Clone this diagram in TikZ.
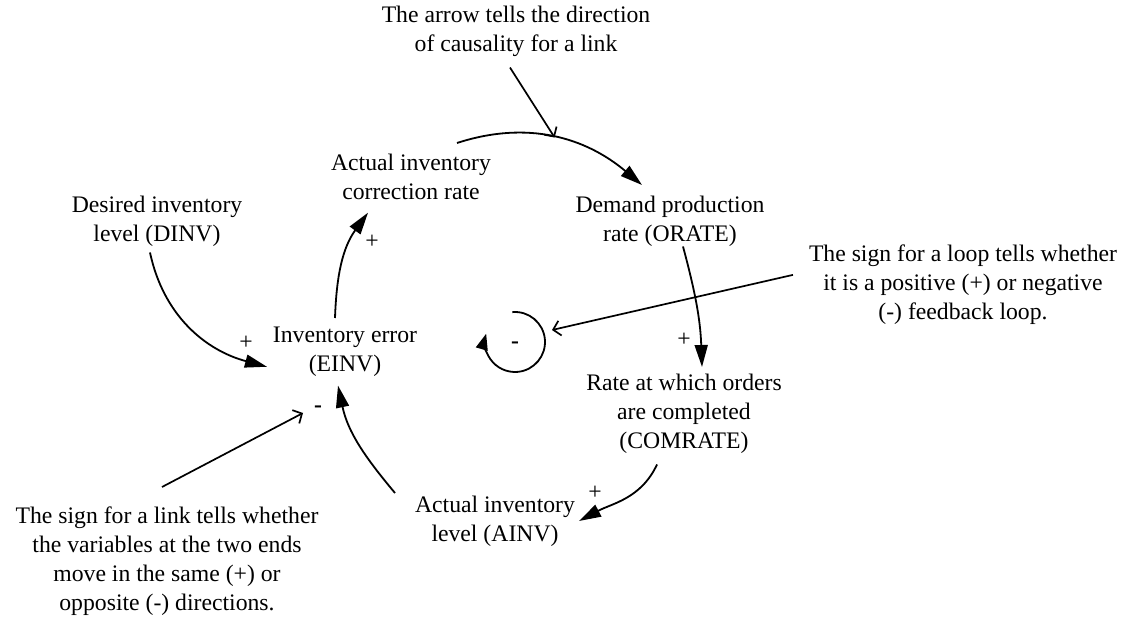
\documentclass[tikz,border=0pt]{standalone}
\usepackage{fontspec}
\setmainfont{Liberation Serif}
\usetikzlibrary{arrows.meta,calc}
\begin{document}
\begin{tikzpicture}[x=1pt,y=-1pt,
  every node/.style={inner sep=0pt, outer sep=0pt, font=\fontsize{23.7}{29}\selectfont, align=center, anchor=north},
  link/.style={line width=1.8pt, -{Triangle[length=22pt,width=13pt]}},
  pointer/.style={line width=1.7pt, -{Straight Barb[length=7pt,width=15pt]}},
  sign/.style={anchor=center},
  minus/.style={anchor=center, font=\fontsize{23.7}{29}\selectfont\bfseries},
]
\useasboundingbox (0,0) rectangle (1127,617);
% variables and notes
\node (top) at (516,6) {The arrow tells the direction\\of causality for a link};
\node (acr) at (411,154) {Actual inventory\\correction rate};
\node (dinv) at (157,196) {Desired inventory\\level (DINV)};
\node (orate) at (670,196) {Demand production\\rate (ORATE)};
\node (einv) at (345,327) {Inventory error\\(EINV)};
\node (com) at (684,374) {Rate at which orders\\are completed\\(COMRATE)};
\node (ainv) at (495,496) {Actual inventory\\level (AINV)};
\node (loopnote) at (963,245) {The sign for a loop tells whether\\it is a positive (+) or negative\\(-) feedback loop.};
\node (linknote) at (167,507) {The sign for a link tells whether\\the variables at the two ends\\move in the same (+) or\\opposite (-) directions.};
% signs
\node[sign] (p1) at (246,343) {+};
\node[sign] (p2) at (372,242) {+};
\node[sign] (p3) at (684,340) {+};
\node[sign] (p4) at (595,493) {+};
\node[minus] (m1) at (318,409) {-};
\coordinate (loopc) at (515,342);
\node[minus] (m2) at (515,345) {-};
% causal links
\draw[link] ($(dinv.south)+(-7,6)$) to[out=-78,in=165] ($(einv.west)+(-6,15)$);
\draw[link] ($(einv.north)+(-10,-9)$) to[out=88,in=-126] ($(acr.south)+(-43,13)$);
\draw[link] ($(acr.north)+(46,-11)$) to[out=18,in=140] coordinate[pos=0.5] (onarc) ($(orate.north)+(-28,-11)$);
\draw[link] ($(orate.south)+(13,0)$) to[out=-75,in=92] ($(com.north)+(18,-7)$);
\draw[link] ($(com.south)+(-27,11)$) to[out=-115,in=28] ($(ainv.north)+(84,25)$);
\draw[link] ($(ainv.north)+(-100,-3)$) to[out=130,in=-78] ($(einv.south)+(-7,9)$);
% loop symbol
\draw[line width=1.8pt, -{Triangle[length=16pt,width=12pt]}] ($(loopc)+({30*cos(95)},{-30*sin(95)})$) arc[start angle=95, end angle=-196, radius=30pt];
% pointers
\draw[pointer] ($(top.south)+(-6,11)$) -- (onarc);
\draw[pointer] ($(linknote.north)+(-5,-20)$) -- ($(m1)+(-15,4)$);
\draw[pointer] ($(loopnote.west)+(-16,-10)$) -- ($(loopc)+(37,-12)$);
\end{tikzpicture}
\end{document}
